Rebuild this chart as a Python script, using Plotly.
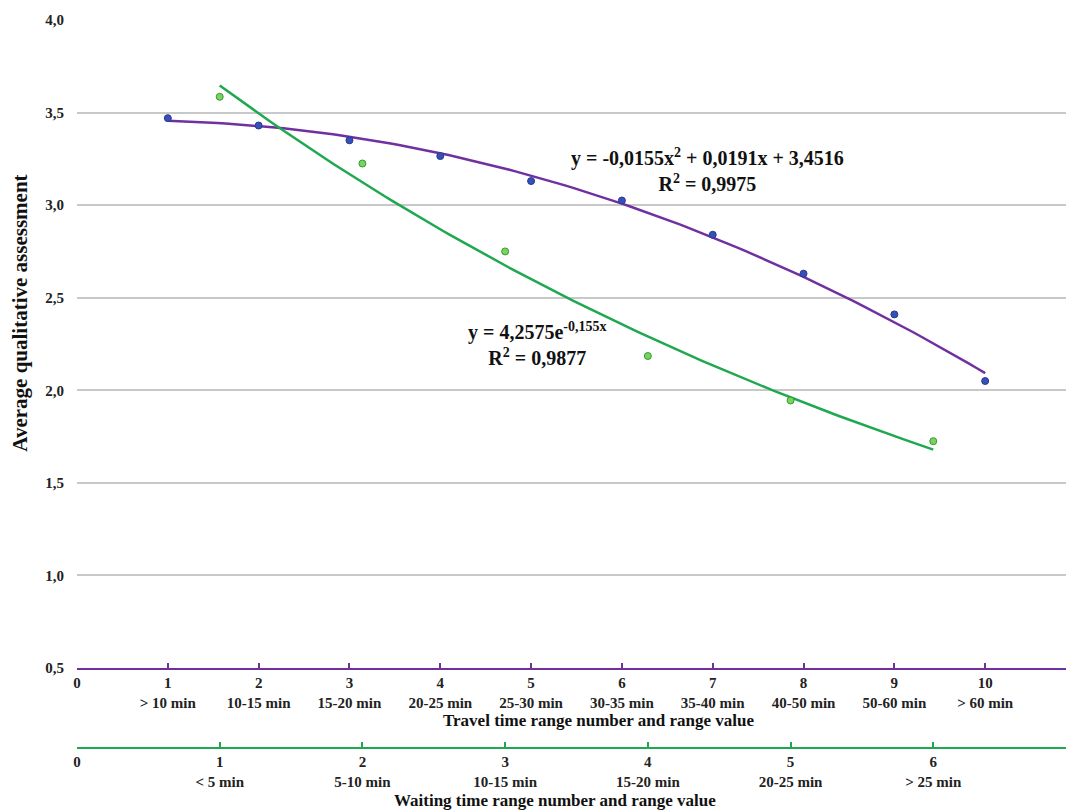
import numpy as np
import plotly.graph_objects as go

# ---- data ----
travel_x = [1, 2, 3, 4, 5, 6, 7, 8, 9, 10]
travel_y = [3.47, 3.43, 3.35, 3.265, 3.13, 3.025, 2.84, 2.63, 2.41, 2.05]
travel_ticks = [0, 1, 2, 3, 4, 5, 6, 7, 8, 9, 10]
travel_ranges = ["", "> 10 min", "10-15 min", "15-20 min", "20-25 min", "25-30 min",
                 "30-35 min", "35-40 min", "40-50 min", "50-60 min", "> 60 min"]

wait_x = [1, 2, 3, 4, 5, 6]
wait_y = [3.585, 3.225, 2.75, 2.185, 1.945, 1.725]
wait_ticks = [0, 1, 2, 3, 4, 5, 6]
wait_ranges = ["", "< 5 min", "5-10 min", "10-15 min", "15-20 min", "20-25 min", "> 25 min"]

y_ticks = [0.5, 1.0, 1.5, 2.0, 2.5, 3.0, 3.5, 4.0]
y_ticktext = ["0,5", "1,0", "1,5", "2,0", "2,5", "3,0", "3,5", "4,0"]

# trendline coefficients as printed on the chart
poly_a, poly_b, poly_c = -0.0155, 0.0191, 3.4516
exp_a, exp_b = 4.2575, -0.155

PURPLE = "#7030a0"
GREEN = "#1fa84f"
FONT = "Liberation Serif"

xt = np.linspace(travel_x[0], travel_x[-1], 100)
yt = poly_a * xt**2 + poly_b * xt + poly_c
xw = np.linspace(wait_x[0], wait_x[-1], 100)
yw = exp_a * np.exp(exp_b * xw)

fig = go.Figure()
fig.add_trace(go.Scatter(x=xt, y=yt, mode="lines", line=dict(color=PURPLE, width=2.5),
                         xaxis="x", yaxis="y", hoverinfo="skip"))
fig.add_trace(go.Scatter(x=travel_x, y=travel_y, mode="markers",
                         marker=dict(color="#3550b8", size=7, line=dict(color="#2a3a90", width=1)),
                         xaxis="x", yaxis="y"))
fig.add_trace(go.Scatter(x=xw, y=yw, mode="lines", line=dict(color=GREEN, width=2.5),
                         xaxis="x2", yaxis="y", hoverinfo="skip"))
fig.add_trace(go.Scatter(x=wait_x, y=wait_y, mode="markers",
                         marker=dict(color="#7dd35a", size=7, line=dict(color="#2e9a3a", width=1)),
                         xaxis="x2", yaxis="y"))

travel_text = [f"<b>{t}</b>" + (f"<br><b>{r}</b>" if r else "") for t, r in zip(travel_ticks, travel_ranges)]
wait_text = [f"<b>{t}</b>" + (f"<br><b>{r}</b>" if r else "") for t, r in zip(wait_ticks, wait_ranges)]

H_PLOT = 728.0
ydom0 = 80.0 / H_PLOT

fig.update_layout(
    width=1066, height=810,
    margin=dict(l=77, r=0, t=20, b=62),
    paper_bgcolor="white", plot_bgcolor="white",
    showlegend=False,
    font=dict(family=FONT, size=15, color="#222"),
    xaxis=dict(range=[0, 10.89], domain=[0, 1], anchor="y",
               tickvals=travel_ticks, ticktext=travel_text,
               ticks="inside", ticklen=5, tickcolor=PURPLE, tickwidth=1.5,
               showline=True, linecolor=PURPLE, linewidth=2,
               showgrid=False, zeroline=False,
               tickfont=dict(family=FONT, size=15, color="#222")),
    xaxis2=dict(range=[0, 6.93], domain=[0, 1], anchor="free", position=0,
                overlaying="x", side="bottom",
                tickvals=wait_ticks, ticktext=wait_text,
                ticks="inside", ticklen=5, tickcolor=GREEN, tickwidth=1.5,
                showline=True, linecolor=GREEN, linewidth=2,
                showgrid=False, zeroline=False,
                tickfont=dict(family=FONT, size=15, color="#222")),
    yaxis=dict(range=[0.5, 4.0], domain=[ydom0, 1], anchor="x",
               tickvals=y_ticks, ticktext=[f"<b>{t}</b>" for t in y_ticktext],
               showgrid=True, gridcolor="#c8c8c8", gridwidth=1.5,
               zeroline=False, showline=False, ticks="",
               ticklabelstandoff=12,
               tickfont=dict(family=FONT, size=15, color="#222")),
    annotations=[
        dict(text="<b>Average qualitative assessment</b>", xref="paper", yref="paper",
             x=-0.058, y=(810 - 313 - 62) / H_PLOT, textangle=-90, showarrow=False,
             font=dict(family=FONT, size=21, color="#111"), xanchor="center", yanchor="middle"),
        dict(text="<b>Travel time range number and range value</b>", xref="paper", yref="paper",
             x=(598 - 77) / 989.0, y=(810 - 720 - 62) / H_PLOT, showarrow=False,
             font=dict(family=FONT, size=17, color="#111"), xanchor="center", yanchor="middle"),
        dict(text="<b>Waiting time range number and range value</b>", xref="paper", yref="paper",
             x=(555 - 77) / 989.0, y=(810 - 800 - 62) / H_PLOT, showarrow=False,
             font=dict(family=FONT, size=17, color="#111"), xanchor="center", yanchor="middle"),
        dict(text="<b>y = -0,0155x<sup>2</sup> + 0,0191x + 3,4516<br>R<sup>2</sup> = 0,9975</b>",
             xref="paper", yref="paper", x=(707 - 77) / 989.0, y=(810 - 170 - 62) / H_PLOT,
             showarrow=False, align="center", xanchor="center", yanchor="middle",
             font=dict(family=FONT, size=20, color="#111")),
        dict(text="<b>y = 4,2575e<sup>-0,155x</sup><br>R<sup>2</sup> = 0,9877</b>",
             xref="paper", yref="paper", x=(537 - 77) / 989.0, y=(810 - 344 - 62) / H_PLOT,
             showarrow=False, align="center", xanchor="center", yanchor="middle",
             font=dict(family=FONT, size=20, color="#111")),
    ],
)

fig.write_html("out.html")
